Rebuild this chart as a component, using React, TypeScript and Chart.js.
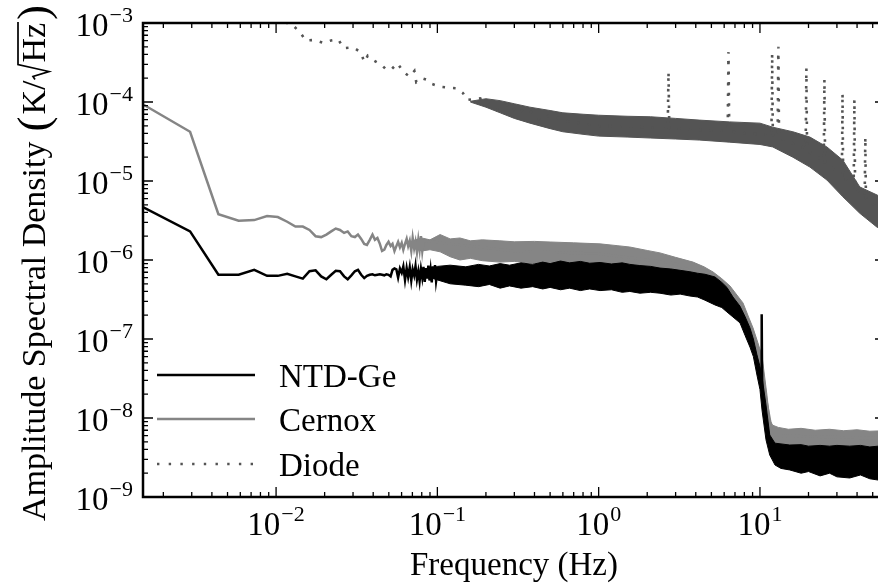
import React, { useEffect, useRef } from "react";
import { Chart, registerables } from "chart.js";

Chart.register(...registerables);

// ---------------- data ----------------
const ntdFreq = [
  0.00146, 0.00293, 0.00439, 0.00586, 0.00732, 0.00879, 0.01025, 0.01172, 0.01318, 0.01465,
  0.01611, 0.01758, 0.01904, 0.02051, 0.02197, 0.02344, 0.0249, 0.0264, 0.0278, 0.0293,
  0.0308, 0.0322, 0.0337, 0.0352, 0.0366, 0.0381, 0.0396, 0.041, 0.0425, 0.044,
  0.0454, 0.0469, 0.0483, 0.0498, 0.0513, 0.0527, 0.0542, 0.0557, 0.0571, 0.0586,
  0.0601, 0.0615, 0.063, 0.0645, 0.0659, 0.0674, 0.0689, 0.0703, 0.0718, 0.0732,
  0.0747, 0.0762, 0.0776, 0.0791, 0.0806, 0.082, 0.0835, 0.085, 0.0864, 0.0879,
  0.0894, 0.0908, 0.0923, 0.0938, 0.0952, 0.0967, 0.0982, 0.1,
  0.3, 1.0, 3.0, 5.0, 7.0, 9.0, 10.15, 10.25, 10.32, 11.5, 20, 59.6,
];
const ntdAsd = [
  4.8e-6, 2.3e-6, 6.5e-7, 6.5e-7, 7.5e-7, 6.3e-7, 6.3e-7, 6.7e-7, 6.2e-7, 5.8e-7,
  7.2e-7, 7.4e-7, 6.2e-7, 5.7e-7, 6.5e-7, 7.3e-7, 7.2e-7, 6.2e-7, 5.7e-7, 6.4e-7,
  7.2e-7, 7.5e-7, 6.5e-7, 5.9e-7, 6.3e-7, 6.5e-7, 6.6e-7, 6.4e-7, 6.5e-7, 6.6e-7,
  6.5e-7, 6.4e-7, 6.6e-7, 6.5e-7, 6.2e-7, 7.5e-7, 7.8e-7, 7.6e-7, 6.0e-7, 7.8e-7,
  6.9e-7, 8.3e-7, 5.6e-7, 7.9e-7, 6.1e-7, 8.1e-7, 5.5e-7, 7.6e-7, 6.4e-7, 8.4e-7,
  5.7e-7, 7.2e-7, 5.4e-7, 7.7e-7, 6.0e-7, 8.2e-7, 5.3e-7, 7.9e-7, 5.8e-7, 8.5e-7,
  5.5e-7, 7.4e-7, 5.2e-7, 8.3e-7, 5.9e-7, 8.6e-7, 5.4e-7, 7.0e-7,
  6.4e-7, 6.2e-7, 5.3e-7, 4.2e-7, 2.5e-7, 8e-8, 3.3e-8, 2.05e-7, 2.2e-8, 4.6e-9, 3.0e-9, 2.9e-9,
];
const ntdBandFreq = [
  0.09, 0.1, 0.12, 0.15, 0.18, 0.21, 0.245, 0.28, 0.33, 0.39,
  0.45, 0.5, 0.58, 0.66, 0.77, 0.88, 1.02, 1.2, 1.4, 1.56,
  1.8, 2.1, 2.4, 2.8, 3.2, 3.68, 4.1, 4.56, 5.26, 5.8,
  6.24, 6.8, 7.52, 8.1, 8.67, 9.1, 9.58, 10.0, 10.3, 10.9,
  11.5, 12.4, 13.5, 15.3, 18, 20, 23.6, 27, 30, 36,
  42, 48, 54, 59.6,
];
const ntdBandHi = [
  7.6e-7, 8.3e-7, 8.6e-7, 8.2e-7, 8.8e-7, 8.4e-7, 9.0e-7, 8.6e-7, 9.2e-7, 8.8e-7,
  9.4e-7, 9.0e-7, 9.7e-7, 9.2e-7, 9.6e-7, 9.1e-7, 9.3e-7, 8.9e-7, 9.2e-7, 8.8e-7,
  8.5e-7, 8.3e-7, 7.9e-7, 7.7e-7, 7.4e-7, 7.1e-7, 6.8e-7, 6.6e-7, 6.1e-7, 5.2e-7,
  4.5e-7, 3.4e-7, 2.6e-7, 1.9e-7, 1.38e-7, 1.0e-7, 6.3e-8, 4.5e-8, 3.3e-8, 1.46e-8,
  6.1e-9, 4.8e-9, 4.7e-9, 4.55e-9, 4.6e-9, 4.4e-9, 4.5e-9, 4.4e-9, 4.5e-9, 4.4e-9,
  4.5e-9, 4.3e-9, 4.4e-9, 4.3e-9,
];
const ntdBandLo = [
  6.0e-7, 5.6e-7, 5.0e-7, 4.8e-7, 4.6e-7, 4.9e-7, 4.4e-7, 4.7e-7, 4.4e-7, 4.6e-7,
  4.3e-7, 4.5e-7, 4.2e-7, 4.4e-7, 4.1e-7, 4.3e-7, 4.1e-7, 4.2e-7, 3.9e-7, 4.0e-7,
  3.8e-7, 3.9e-7, 3.8e-7, 3.6e-7, 3.7e-7, 3.5e-7, 3.4e-7, 3.1e-7, 2.7e-7, 2.5e-7,
  2.2e-7, 1.9e-7, 1.6e-7, 1.1e-7, 7.9e-8, 6.0e-8, 3.5e-8, 2.3e-8, 1.26e-8, 5.3e-9,
  3.4e-9, 2.54e-9, 2.3e-9, 2.2e-9, 2.0e-9, 2.1e-9, 1.85e-9, 2.0e-9, 1.8e-9, 1.74e-9,
  1.9e-9, 1.7e-9, 1.64e-9, 1.75e-9,
];

const cernoxFreq = [
  0.00146, 0.00293, 0.00439, 0.00586, 0.00732, 0.00879, 0.01025, 0.01172, 0.01318, 0.01465,
  0.01611, 0.01758, 0.01904, 0.02051, 0.02197, 0.02344, 0.0249, 0.0264, 0.0278, 0.0293,
  0.0308, 0.0322, 0.0337, 0.0352, 0.0366, 0.0381, 0.0396, 0.041, 0.0425, 0.044,
  0.0454, 0.0469, 0.0483, 0.0498, 0.0513, 0.0527, 0.0542, 0.0557, 0.0571, 0.0586,
  0.0601, 0.0615, 0.063, 0.0645, 0.0659, 0.0674, 0.0689, 0.0703, 0.0718, 0.0732,
  0.0747, 0.0762, 0.0776, 0.0791, 0.0806, 0.082,
  0.3, 1.0, 3.0, 6.0, 9.0, 11.0, 12.0, 59.6,
];
const cernoxAsd = [
  9.6e-5, 4.2e-5, 3.8e-6, 3.15e-6, 3.2e-6, 3.6e-6, 3.5e-6, 3.05e-6, 2.65e-6, 2.65e-6,
  2.4e-6, 2.0e-6, 1.95e-6, 2.1e-6, 2.3e-6, 2.5e-6, 2.4e-6, 2.2e-6, 2.3e-6, 2.0e-6,
  1.95e-6, 2.1e-6, 1.85e-6, 1.6e-6, 1.55e-6, 1.8e-6, 2.1e-6, 1.8e-6, 1.9e-6, 1.6e-6,
  1.3e-6, 1.35e-6, 1.55e-6, 1.7e-6, 1.5e-6, 1.6e-6, 1.3e-6, 1.5e-6, 1.7e-6, 1.45e-6,
  1.65e-6, 1.35e-6, 1.6e-6, 1.85e-6, 1.5e-6, 1.75e-6, 1.3e-6, 1.9e-6, 1.4e-6, 1.7e-6,
  1.25e-6, 1.8e-6, 1.35e-6, 2.0e-6, 1.3e-6, 1.75e-6,
  1.3e-6, 1.2e-6, 9.0e-7, 4.5e-7, 1.1e-7, 1.6e-8, 6.0e-9, 5.5e-9,
];
const cernoxBandFreq = [
  0.07, 0.08, 0.09, 0.104, 0.12, 0.138, 0.16, 0.19, 0.244, 0.3,
  0.4, 0.5, 0.7, 1.02, 1.3, 1.56, 2.0, 2.4, 3.0, 3.85,
  4.5, 5.12, 5.8, 6.52, 7.2, 7.85, 8.5, 9.06, 9.7, 10.3,
  11.05, 11.5, 12.0, 13, 15, 18, 22, 27, 33, 40,
  48, 59.6,
];
const cernoxBandHi = [
  1.75e-6, 1.9e-6, 1.8e-6, 2.1e-6, 1.85e-6, 1.9e-6, 1.75e-6, 1.8e-6, 1.75e-6, 1.7e-6,
  1.72e-6, 1.69e-6, 1.65e-6, 1.6e-6, 1.52e-6, 1.46e-6, 1.32e-6, 1.23e-6, 1.08e-6, 9.4e-7,
  8.2e-7, 7.05e-7, 5.8e-7, 4.69e-7, 3.6e-7, 2.86e-7, 1.9e-7, 1.38e-7, 9.0e-8, 6.1e-8,
  1.95e-8, 9.4e-9, 8.1e-9, 7.6e-9, 7.2e-9, 7.4e-9, 7.0e-9, 7.2e-9, 6.9e-9, 7.1e-9,
  6.8e-9, 6.9e-9,
];
const cernoxBandLo = [
  1.5e-6, 1.3e-6, 1.35e-6, 1.27e-6, 1.1e-6, 1.0e-6, 1.05e-6, 9.8e-7, 9.4e-7, 9.6e-7,
  9.0e-7, 8.9e-7, 8.8e-7, 8.6e-7, 8.4e-7, 8.1e-7, 8.0e-7, 7.9e-7, 7.4e-7, 6.45e-7,
  5.6e-7, 4.8e-7, 3.9e-7, 3.12e-7, 2.3e-7, 1.85e-7, 1.3e-7, 9.7e-8, 6.0e-8, 3.5e-8,
  1.26e-8, 5.3e-9, 4.6e-9, 4.5e-9, 4.4e-9, 4.3e-9, 4.3e-9, 4.2e-9, 4.2e-9, 4.2e-9,
  4.2e-9, 4.2e-9,
];

const diodeFreq = [
  0.0088, 0.0103, 0.0117, 0.0127, 0.0141, 0.0153, 0.0173, 0.0196, 0.0219, 0.0243,
  0.0262, 0.0301, 0.0336, 0.0352, 0.037, 0.0406, 0.0451, 0.0484, 0.052, 0.0566,
  0.0615, 0.0672, 0.072, 0.074, 0.081, 0.087, 0.092, 0.1, 0.104, 0.132,
  0.144, 0.152, 0.184, 0.212, 0.233, 0.282, 0.31, 0.358, 0.433, 0.5,
  0.664, 1.0, 2.68, 2.71, 2.74, 6.31, 6.38, 6.45, 11.78, 11.9,
  12.02, 12.87, 13.0, 13.13, 19.2, 19.4, 19.6, 24.85, 25.1, 25.35,
  32.2, 32.5, 32.8, 38.1, 38.5, 38.9, 44.6, 45.0, 45.4, 59.6,
];
const diodeAsd = [
  1.4e-3, 1.15e-3, 1.0e-3, 9.4e-4, 7.6e-4, 6.0e-4, 6.1e-4, 5.6e-4, 6.0e-4, 6.2e-4,
  4.8e-4, 4.9e-4, 4.25e-4, 3.2e-4, 3.85e-4, 3.33e-4, 2.95e-4, 2.55e-4, 2.6e-4, 3.1e-4,
  2.4e-4, 2.1e-4, 2.47e-4, 1.78e-4, 1.99e-4, 1.9e-4, 1.7e-4, 1.6e-4, 1.56e-4, 1.49e-4,
  1.3e-4, 1.06e-4, 1.11e-4, 9.2e-5, 7.9e-5, 9.6e-5, 7.2e-5, 8.3e-5, 5.9e-5, 6.8e-5,
  5.6e-5, 5.0e-5, 4.7e-5, 2.4e-4, 4.6e-5, 4.3e-5, 4.3e-4, 4.2e-5, 3.8e-5, 4.1e-4,
  3.8e-5, 3.6e-5, 5.0e-4, 3.5e-5, 2.6e-5, 2.7e-4, 2.4e-5, 1.8e-5, 1.95e-4, 1.7e-5,
  1.2e-5, 1.29e-4, 1.1e-5, 8.5e-6, 1.08e-4, 8.0e-6, 6.5e-6, 3.6e-5, 6.0e-6, 3.9e-6,
];
const diodeBandFreq = [
  0.16, 0.2, 0.245, 0.3, 0.375, 0.5, 0.6, 0.8, 1.0, 1.5,
  2.1, 3.0, 4.2, 6.5, 10, 12, 16, 20.4, 26, 32.7,
  41.6, 53.2, 59.6,
];
const diodeBandHi = [
  1.02e-4, 1.1e-4, 1.04e-4, 9.5e-5, 8.6e-5, 7.8e-5, 7.3e-5, 7.0e-5, 6.8e-5, 6.6e-5,
  6.5e-5, 6.2e-5, 5.9e-5, 5.6e-5, 5.4e-5, 4.8e-5, 4.2e-5, 3.6e-5, 2.7e-5, 1.83e-5,
  8.4e-6, 6.65e-6, 5.8e-6,
];
const diodeBandLo = [
  1.0e-4, 8.6e-5, 7.3e-5, 6.2e-5, 5.4e-5, 4.6e-5, 4.2e-5, 3.9e-5, 3.7e-5, 3.6e-5,
  3.5e-5, 3.4e-5, 3.3e-5, 3.1e-5, 2.9e-5, 2.7e-5, 2.0e-5, 1.5e-5, 1.03e-5, 6.3e-6,
  3.9e-6, 2.6e-6, 2.4e-6,
];

const xRange = [0.001496, 59.6];
const yRange = [1e-9, 1e-3];
const xTickExps = [-2, -1, 0, 1];
const yTickExps = [-9, -8, -7, -6, -5, -4, -3];
const seriesLabels = ["NTD-Ge", "Cernox", "Diode"];
const xTitle = "Frequency (Hz)";
const yTitleMain = "Amplitude Spectral Density";

// ---------------- styles ----------------
const SERIF = '"Liberation Serif", "DejaVu Serif", serif';
const BLACK = "#000000";
const GRAY = "#858585";
const DARK = "#545454";
const DIODE_DASH = [2.6, 8];

function toPoints(xs: number[], ys: number[]) {
  return xs.map((x, i) => ({ x, y: ys[i] }));
}

function expText(e: number) {
  return e < 0 ? "\u2212" + Math.abs(e) : String(e);
}

function drawPow(ctx: CanvasRenderingContext2D, x: number, y: number, e: number, align: string) {
  ctx.font = `33px ${SERIF}`;
  const w1 = ctx.measureText("10").width;
  ctx.font = `22px ${SERIF}`;
  const s = expText(e);
  const w2 = ctx.measureText(s).width;
  const total = w1 + 1 + w2;
  const x0 = align === "center" ? x - total / 2 : x - total;
  ctx.textAlign = "left";
  ctx.textBaseline = "alphabetic";
  ctx.font = `33px ${SERIF}`;
  ctx.fillText("10", x0, y);
  ctx.font = `22px ${SERIF}`;
  ctx.fillText(s, x0 + w1 + 1, y - 14);
}

const decorPlugin = {
  id: "decor",
  afterDraw(chart: any) {
    const { ctx, chartArea: a, scales } = chart;
    const sx = scales.x;
    const sy = scales.y;
    ctx.save();
    ctx.strokeStyle = "#000";
    ctx.fillStyle = "#000";

    // inward ticks on all four sides
    ctx.lineWidth = 1.3;
    ctx.beginPath();
    for (let e = -3; e <= 1; e++) {
      for (let m = 1; m <= 9; m++) {
        const v = m * Math.pow(10, e);
        if (v < sx.min || v > sx.max) continue;
        const px = sx.getPixelForValue(v);
        const len = m === 1 ? 10 : 5;
        ctx.moveTo(px, a.bottom);
        ctx.lineTo(px, a.bottom - len);
        ctx.moveTo(px, a.top);
        ctx.lineTo(px, a.top + len);
      }
    }
    for (let e = -9; e <= -3; e++) {
      for (let m = 1; m <= 9; m++) {
        const v = m * Math.pow(10, e);
        if (v < sy.min * 0.999 || v > sy.max * 1.001) continue;
        const py = sy.getPixelForValue(v);
        const len = m === 1 ? 10 : 5;
        ctx.moveTo(a.left, py);
        ctx.lineTo(a.left + len, py);
        ctx.moveTo(a.right, py);
        ctx.lineTo(a.right - len, py);
      }
    }
    ctx.stroke();

    // spines
    ctx.lineWidth = 2.5;
    ctx.strokeRect(a.left, a.top, a.right - a.left, a.bottom - a.top);

    // tick labels
    xTickExps.forEach((e) => {
      const px = sx.getPixelForValue(Math.pow(10, e));
      drawPow(ctx, px, a.bottom + 38, e, "center");
    });
    yTickExps.forEach((e) => {
      const py = sy.getPixelForValue(Math.pow(10, e));
      drawPow(ctx, a.left - 10, py + 13, e, "right");
    });

    // x title
    ctx.font = `33px ${SERIF}`;
    ctx.textAlign = "center";
    ctx.textBaseline = "alphabetic";
    ctx.fillText(xTitle, (a.left + a.right) / 2, 575);

    // y title (rotated)
    const fMain = `34px ${SERIF}`;
    const fParen = `45px ${SERIF}`;
    ctx.font = fMain;
    const wMain = ctx.measureText(yTitleMain).width;
    const wK = ctx.measureText("K/").width;
    const wHz = ctx.measureText("Hz").width;
    ctx.font = fParen;
    const wPL = ctx.measureText("(").width;
    const wPR = ctx.measureText(")").width;
    const wRad = 18;
    const gap = 10;
    const total = wMain + gap + wPL + 2 + wK + wRad + wHz + 3 + wPR;
    ctx.save();
    ctx.translate(45, (a.top + a.bottom) / 2 + 3);
    ctx.rotate(-Math.PI / 2);
    ctx.textAlign = "left";
    let x = -total / 2;
    ctx.font = fMain;
    ctx.fillText(yTitleMain, x, 0);
    x += wMain + gap;
    ctx.font = fParen;
    ctx.fillText("(", x, 3);
    x += wPL + 2;
    ctx.font = fMain;
    ctx.fillText("K/", x, 0);
    x += wK;
    ctx.lineWidth = 1.7;
    ctx.beginPath();
    ctx.moveTo(x + 1, -10);
    ctx.lineTo(x + 4, -12);
    ctx.lineTo(x + 9, 4);
    ctx.lineTo(x + 16, -27);
    ctx.lineTo(x + wRad + wHz + 1, -27);
    ctx.stroke();
    x += wRad;
    ctx.fillText("Hz", x, 0);
    x += wHz + 3;
    ctx.font = fParen;
    ctx.fillText(")", x, 3);
    ctx.restore();

    // legend
    const legendIdx = [0, 3, 6];
    const rows = [375, 419, 464];
    legendIdx.forEach((di, i) => {
      const ds = chart.data.datasets[di];
      const y = rows[i];
      ctx.save();
      ctx.strokeStyle = ds.borderColor;
      ctx.lineWidth = di === 6 ? 2.4 : 2.6;
      ctx.setLineDash(ds.borderDash ? [2.4, 9.3] : []);
      ctx.beginPath();
      ctx.moveTo(157, y);
      ctx.lineTo(255, y);
      ctx.stroke();
      ctx.restore();
      ctx.font = `33px ${SERIF}`;
      ctx.textAlign = "left";
      ctx.fillStyle = "#000";
      ctx.fillText(seriesLabels[i], 279, y + 12);
    });

    ctx.restore();
  },
};

export default function App() {
  const ref = useRef<HTMLCanvasElement | null>(null);

  useEffect(() => {
    if (!ref.current) return;
    const line = (over: any) => ({
      pointRadius: 0,
      tension: 0,
      fill: false,
      ...over,
    });
    const chart = new Chart(ref.current, {
      type: "line",
      data: {
        datasets: [
          line({ label: seriesLabels[0], data: toPoints(ntdFreq, ntdAsd), borderColor: BLACK, borderWidth: 2.5, order: 0 }),
          line({ label: "ntd-hi", data: toPoints(ntdBandFreq, ntdBandHi), borderColor: BLACK, backgroundColor: BLACK, borderWidth: 1, fill: 2, order: 1 }),
          line({ label: "ntd-lo", data: toPoints(ntdBandFreq, ntdBandLo), borderColor: BLACK, borderWidth: 1, order: 1 }),
          line({ label: seriesLabels[1], data: toPoints(cernoxFreq, cernoxAsd), borderColor: GRAY, borderWidth: 2.5, order: 2 }),
          line({ label: "cernox-hi", data: toPoints(cernoxBandFreq, cernoxBandHi), borderColor: GRAY, backgroundColor: GRAY, borderWidth: 1, fill: 5, order: 3 }),
          line({ label: "cernox-lo", data: toPoints(cernoxBandFreq, cernoxBandLo), borderColor: GRAY, borderWidth: 1, order: 3 }),
          line({ label: seriesLabels[2], data: toPoints(diodeFreq, diodeAsd), borderColor: DARK, borderWidth: 2.6, borderDash: DIODE_DASH, borderCapStyle: "butt", order: 4 }),
          line({ label: "diode-hi", data: toPoints(diodeBandFreq, diodeBandHi), borderColor: DARK, backgroundColor: DARK, borderWidth: 1, fill: 8, order: 5 }),
          line({ label: "diode-lo", data: toPoints(diodeBandFreq, diodeBandLo), borderColor: DARK, borderWidth: 1, order: 5 }),
        ],
      },
      options: {
        responsive: false,
        animation: false,
        devicePixelRatio: 1,
        events: [],
        layout: { padding: { left: 143, right: 2, top: 23, bottom: 86 } },
        scales: {
          x: { type: "logarithmic", min: xRange[0], max: xRange[1], display: false },
          y: { type: "logarithmic", min: yRange[0], max: yRange[1], display: false },
        },
        plugins: {
          legend: { display: false },
          tooltip: { enabled: false },
          title: { display: false },
        },
      },
      plugins: [decorPlugin],
    } as any);
    return () => chart.destroy();
  }, []);

  return (
    <div
      style={{
        position: "fixed",
        left: 0,
        top: 0,
        width: 878,
        height: 583,
        overflow: "hidden",
        background: "#ffffff",
      }}
    >
      <canvas ref={ref} width={887} height={583} style={{ display: "block", width: 887, height: 583 }} />
    </div>
  );
}
